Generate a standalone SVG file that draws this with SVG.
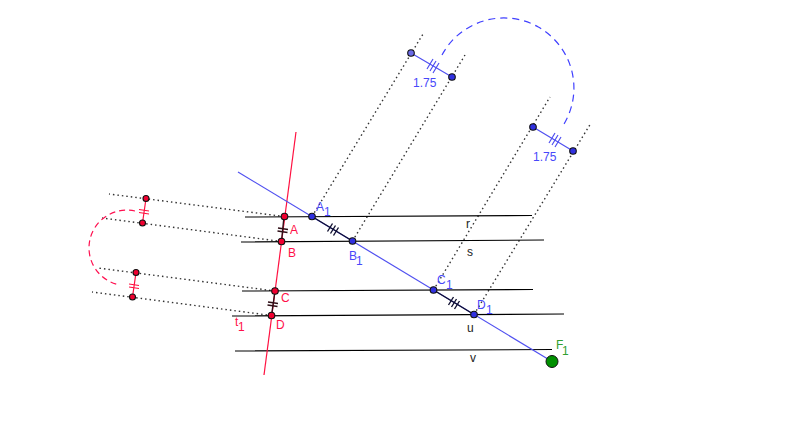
<svg xmlns="http://www.w3.org/2000/svg" width="800" height="430" viewBox="0 0 800 430">
<style>
text{font-family:"Liberation Sans",Arial,sans-serif;font-size:12px}
.sub{font-size:12px}
.k{fill:#222}.b{fill:#4848fa}.r{fill:#ff1048}.g{fill:#30a030}
.l{stroke:#000;stroke-width:1.1;fill:none}
.seg{stroke:#101030;stroke-width:1.4;fill:none}
.segr{stroke:#301018;stroke-width:1.4;fill:none}
.d{stroke:#000;stroke-width:1.4;stroke-dasharray:1.5 3;fill:none;opacity:.8}
.blue{stroke:#5050f0;stroke-width:1.2;fill:none}
.red{stroke:#ff1040;stroke-width:1.2;fill:none}
.dblue{stroke:#4040ff;stroke-width:1.2;stroke-dasharray:7 5;fill:none}
.dred{stroke:#ff1050;stroke-width:1.2;stroke-dasharray:6 4;fill:none}
.pb{fill:#3030e0;stroke:#111;stroke-width:1.1}
.pb2{fill:#6a6ae8;stroke:#111;stroke-width:1.1}
.pr{fill:#f00030;stroke:#111;stroke-width:1.1}
.pg{fill:#009000;stroke:#111;stroke-width:1}
</style>
<g id="connectors">
<path class="l" d="M245 217L532 215.5M241 242L544 240M242 291L533 289.5M232 316L564 314M235 351L552 349.5"/>
<path class="d" d="M312 216.5L423 34M352.5 241L465 55M433.5 290L550 97M474 314.5L591 123"/>
<path class="d" d="M284 216.5L109 194M281.5 241.5L102 218M275 291L98 268M271.5 315.5L92 292"/>
<path class="red" d="M296 132L264 375"/>
<path class="blue" d="M238 172L552 361.5"/>
<path class="segr" d="M284 216.5L281.5 241.5M275 291L271.5 315.5"/>
<path class="seg" d="M312 216.5L352.5 241M433.5 290L474 314.5"/>
<path class="seg" d="M327.5 231.5L332.5 223.5M330.5 233.5L335.5 225.5M333.5 235.5L338.5 227.5M448.5 305L453.5 297M451.5 307L456.5 299M454.5 309L459.5 301" stroke-width="1"/>
<path class="segr" stroke-width="1" d="M278 228L288 229.5M277.5 231L287.5 232.5M268 302L278 303.5M267.5 305L277.5 306.5"/>
<path class="blue" d="M411 53L452 77M533 127L573 151"/>
<path class="blue" d="M427 69L433 59M430 71L436 61M433 73L439 63M549 143L555 133M552 145L558 135M555 147L561 137"/>
<path class="red" d="M146 198.5L142.5 223M136 272.5L132.5 297"/>
<path class="red" d="M139 209.5L149 211M139 212.5L149 214M129 284L139 285.5M129 287L139 288.5"/>
<path class="dblue" d="M442 55A70.1 70.1 0 1 1 564 124"/>
<path class="dred" d="M135 211A37.76 37.76 0 1 0 120 285"/>
</g>
<g id="A"><circle class="pr" cx="284.5" cy="216.5" r="3.3"/><text class="r" x="290" y="234">A</text></g>
<g id="B"><circle class="pr" cx="281.5" cy="241.5" r="3.3"/><text class="r" x="288" y="257">B</text></g>
<g id="C"><circle class="pr" cx="275" cy="291" r="3.3"/><text class="r" x="281" y="302">C</text></g>
<g id="D"><circle class="pr" cx="271.5" cy="315.5" r="3.3"/><text class="r" x="276" y="329">D</text></g>
<g id="t1"><text class="r" x="235" y="326">t</text><text class="r sub" x="238" y="331">1</text></g>
<g id="A1"><circle class="pb" cx="312" cy="216.5" r="3.3"/><text class="b" x="316" y="211">A</text><text class="b sub" x="324" y="216">1</text></g>
<g id="B1"><circle class="pb" cx="352.5" cy="241" r="3.3"/><text class="b" x="349" y="260">B</text><text class="b sub" x="356" y="265">1</text></g>
<g id="C1"><circle class="pb" cx="433.5" cy="290" r="3.3"/><text class="b" x="437" y="284">C</text><text class="b sub" x="446" y="289">1</text></g>
<g id="D1"><circle class="pb" cx="474" cy="314.5" r="3.3"/><text class="b" x="477" y="309">D</text><text class="b sub" x="486" y="314">1</text></g>
<g id="F1"><circle class="pg" cx="552" cy="361.5" r="6"/><text class="g" x="556" y="349">F</text><text class="g sub" x="562" y="355">1</text></g>
<g id="r"><text class="k" x="466" y="228">r</text></g>
<g id="s"><text class="k" x="467" y="256">s</text></g>
<g id="u"><text class="k" x="467" y="332">u</text></g>
<g id="v"><text class="k" x="470" y="362">v</text></g>
<g id="P1"><circle class="pb2" cx="411" cy="53" r="3.3"/></g>
<g id="P2"><circle class="pb" cx="452" cy="77" r="3.3"/><text class="b" x="413" y="87">1.75</text></g>
<g id="P3"><circle class="pb" cx="533" cy="127" r="3.3"/></g>
<g id="P4"><circle class="pb" cx="573" cy="151" r="3.3"/><text class="b" x="533" y="161">1.75</text></g>
<g id="Q1"><circle class="pr" cx="146" cy="198.5" r="3"/></g>
<g id="Q2"><circle class="pr" cx="142.5" cy="223" r="3"/></g>
<g id="Q3"><circle class="pr" cx="136" cy="272.5" r="3"/></g>
<g id="Q4"><circle class="pr" cx="132.5" cy="297" r="3"/></g>
</svg>
